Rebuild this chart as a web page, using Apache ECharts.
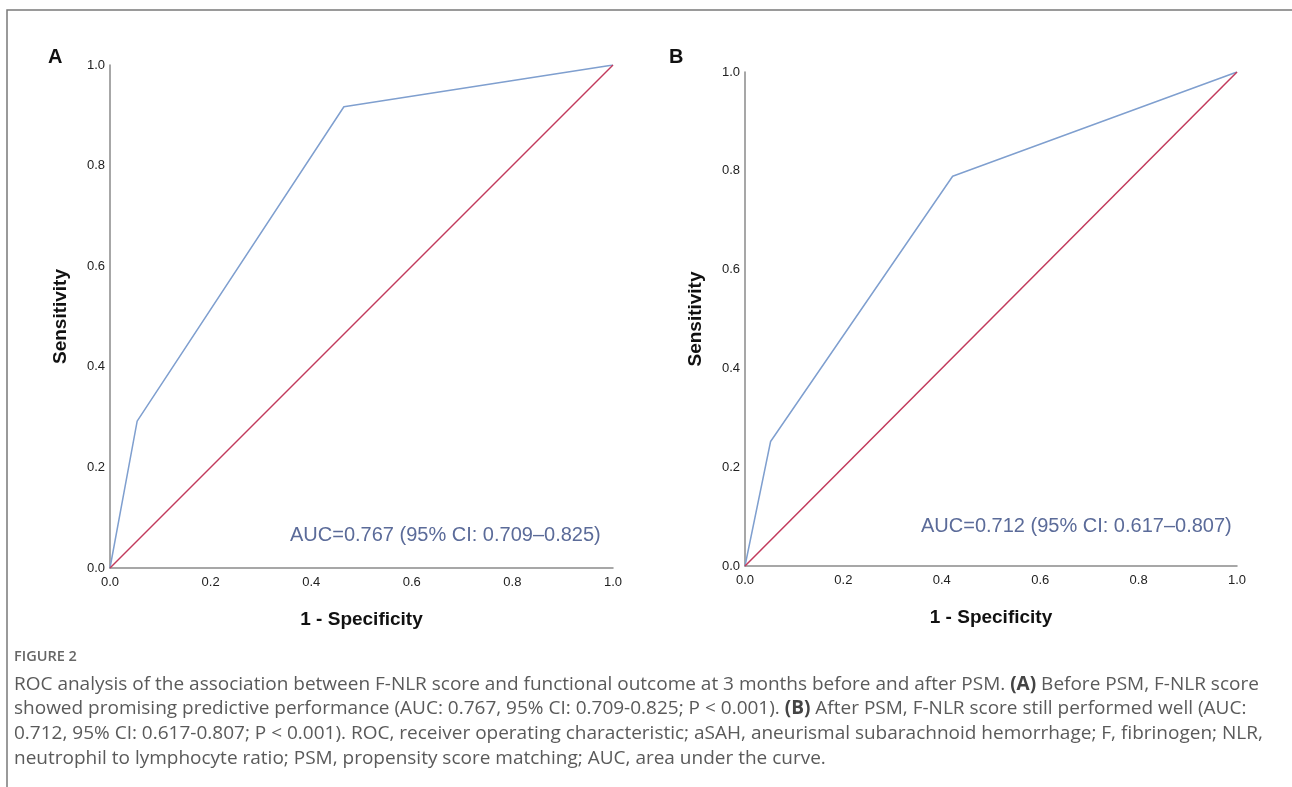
<!DOCTYPE html>
<html>
<head>
<meta charset="utf-8">
<title>FIGURE 2 - ROC</title>
<script src="https://cdn.jsdelivr.net/npm/echarts@6/dist/echarts.min.js"></script>
<style>
    html, body {margin: 0; padding: 0; background: #fff;}
    #chart {width: 1292px; height: 787px;}
</style>
</head>
<body>
<div id="chart"></div>
<script type="text/javascript">
    // ROC points (1 - specificity, sensitivity)
    var fprA = [0, 0.054, 0.465, 1];
    var tprA = [0, 0.292, 0.917, 1];
    var fprB = [0, 0.052, 0.422, 1];
    var tprB = [0, 0.252, 0.789, 1];
    // reference diagonal
    var refX = [0, 1];
    var refY = [0, 1];
    var aucA = 'AUC=0.767 (95% CI: 0.709–0.825)';
    var aucB = 'AUC=0.712 (95% CI: 0.617–0.807)';

    var captionLines = [
        'ROC analysis of the association between F-NLR score and functional outcome at 3 months before and after PSM. {b|(A)} Before PSM, F-NLR score',
        'showed promising predictive performance (AUC: 0.767, 95% CI: 0.709-0.825; P < 0.001). {b|(B)} After PSM, F-NLR score still performed well (AUC:',
        '0.712, 95% CI: 0.617-0.807; P < 0.001). ROC, receiver operating characteristic; aSAH, aneurismal subarachnoid hemorrhage; F, fibrinogen; NLR,',
        'neutrophil to lymphocyte ratio; PSM, propensity score matching; AUC, area under the curve.'
    ];

    function pairs(xs, ys) {
        return xs.map(function (x, i) { return [x, ys[i]]; });
    }

    var blue = '#7f9fcf';
    var red = '#c23a5c';
    var axisFont = 'Liberation Sans, Arial, sans-serif';

    function xAx(idx) {
        return {
            type: 'value', gridIndex: idx, min: 0, max: 1, interval: 0.2,
            name: '1 - Specificity', nameLocation: 'middle', nameGap: 42,
            nameTextStyle: {fontFamily: axisFont, fontSize: 19, fontWeight: 'bold', color: '#111'},
            axisLine: {lineStyle: {color: '#8a8a8a', width: 1.5}},
            axisTick: {show: false},
            splitLine: {show: false},
            axisLabel: {margin: 8, fontFamily: axisFont, fontSize: 13, color: '#222',
                formatter: function (v) { return v.toFixed(1); }}
        };
    }
    function yAx(idx) {
        return {
            type: 'value', gridIndex: idx, min: 0, max: 1, interval: 0.2,
            name: 'Sensitivity', nameLocation: 'middle', nameGap: 40, nameRotate: 90,
            nameTextStyle: {fontFamily: axisFont, fontSize: 19, fontWeight: 'bold', color: '#111'},
            axisLine: {show: true, lineStyle: {color: '#8a8a8a', width: 1.5}},
            axisTick: {show: false},
            splitLine: {show: false},
            axisLabel: {margin: 5, fontFamily: axisFont, fontSize: 13, color: '#222',
                formatter: function (v) { return v.toFixed(1); }}
        };
    }
    function line(idx, data, color) {
        return {
            type: 'line', xAxisIndex: idx, yAxisIndex: idx, data: data,
            showSymbol: false, silent: true, animation: false,
            lineStyle: {color: color, width: 1.5}
        };
    }

    var myChart = echarts.init(document.getElementById('chart'));
    var option = {
        backgroundColor: '#fff',
        animation: false,
        grid: [
            {left: 110, top: 65, width: 503, height: 503},
            {left: 745, top: 72, width: 492, height: 494}
        ],
        xAxis: [xAx(0), xAx(1)],
        yAxis: [yAx(0), yAx(1)],
        series: [
            line(0, pairs(fprA, tprA), blue),
            line(0, pairs(refX, refY), red),
            line(1, pairs(fprB, tprB), blue),
            line(1, pairs(refX, refY), red)
        ],
        graphic: [
            // figure frame
            {type: 'rect', shape: {x: 7, y: 10, width: 1320, height: 800},
                style: {fill: null, stroke: '#7a7a7a', lineWidth: 1.5}, silent: true},
            {type: 'text', left: 48, top: 47, style: {text: 'A', font: 'bold 20px ' + axisFont, fill: '#111'}},
            {type: 'text', left: 669, top: 47, style: {text: 'B', font: 'bold 20px ' + axisFont, fill: '#111'}},
            {type: 'text', left: 290, top: 525, style: {text: aucA, font: '20px ' + axisFont, fill: '#5b6b99'}},
            {type: 'text', left: 921, top: 516, style: {text: aucB, font: '20px ' + axisFont, fill: '#5b6b99'}},
            {type: 'text', left: 14, top: 649, style: {text: 'FIGURE 2', font: '600 14.5px Open Sans', fill: '#666'}},
            {type: 'text', left: 14, top: 672, style: {
                text: captionLines.join('\n'), font: '19px Open Sans', fill: '#5a5a5a', lineHeight: 24.7,
                rich: {b: {fontFamily: 'Open Sans', fontSize: 19, fontWeight: 'bold', fill: '#444', lineHeight: 24.7}}
            }}
        ]
    };
    myChart.setOption(option);
</script>
</body>
</html>
